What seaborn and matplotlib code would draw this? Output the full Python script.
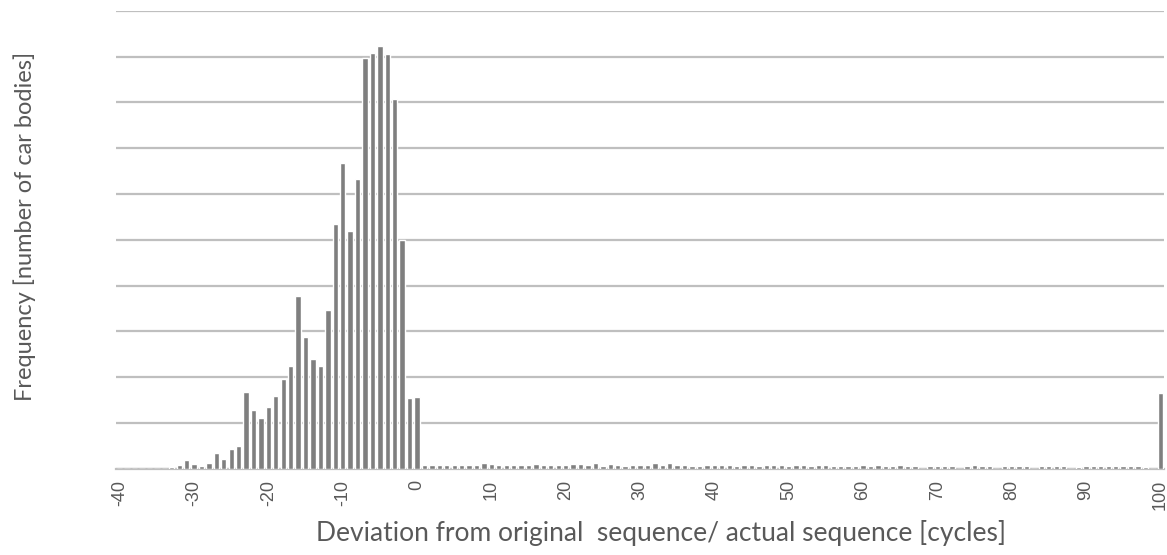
import matplotlib
matplotlib.use("Agg")
import matplotlib.pyplot as plt
import seaborn as sns
import numpy as np
import pandas as pd

# ---- data ----
deviation = list(range(-40, 101))
freq_neg = [0, 0, 0, 0, 0, 0, 0,                       # -40 .. -34
            0.4, 0.8, 1.9, 1.0, 0.6, 1.3, 3.4, 2.2, 4.3, 5.0,   # -33 .. -24
            16.7, 12.8, 11.1, 13.5, 15.9, 19.5, 22.4, 37.7, 28.8, 24.0,  # -23 .. -14
            22.5, 34.7, 53.4, 66.8, 52.0, 63.2, 89.7, 90.7, 92.2, 90.5,  # -13 .. -4
            80.8, 49.9, 15.5, 15.7]                   # -3 .. 0
freq_pos = [0.7, 0.7, 0.7, 0.8, 0.9, 0.7, 0.7, 0.9, 1.2, 1.1,   # 1..10
            0.9, 0.9, 0.8, 0.8, 0.9, 1.0, 0.8, 0.9, 0.8, 0.8,   # 11..20
            1.0, 1.1, 0.9, 1.2, 0.6, 1.1, 0.8, 0.5, 0.9, 0.8,   # 21..30
            0.7, 1.2, 0.9, 1.2, 0.8, 0.7, 0.6, 0.6, 0.7, 0.8,   # 31..40
            0.7, 0.7, 0.6, 0.7, 0.7, 0.6, 0.7, 0.7, 0.7, 0.6,   # 41..50
            0.7, 0.7, 0.6, 0.7, 0.9, 0.6, 0.6, 0.6, 0.6, 0.7,   # 51..60
            0.6, 0.8, 0.6, 0.6, 0.7, 0.6, 0.5, 0.0, 0.5, 0.5,   # 61..70
            0.5, 0.5, 0.0, 0.5, 0.7, 0.6, 0.5, 0.0, 0.5, 0.5,   # 71..80
            0.6, 0.5, 0.0, 0.5, 0.6, 0.5, 0.5, 0.0, 0.4, 0.5,   # 81..90
            0.5, 0.6, 0.5, 0.5, 0.5, 0.5, 0.5, 0.4, 0.0, 16.6]  # 91..100
frequency = freq_neg + freq_pos
tick_values = list(range(-40, 101, 10))
x_title = "Deviation from original  sequence/ actual sequence [cycles]"
y_title = "Frequency [number of car bodies]"

df = pd.DataFrame({"deviation": deviation, "frequency": frequency})

sns.set_style("white")
fig = plt.figure(figsize=(11.67, 5.55), dpi=100)
ax = fig.add_axes([116/1167, 1-468.7/555, (1164-116)/1167, (468.7-10.7)/555])

sns.barplot(data=df, x="deviation", y="frequency", order=deviation,
            color="#7f7f7f", saturation=1, width=0.72, ax=ax, zorder=3)

ax.set_xlim(-0.5, len(deviation) - 0.5)
ax.set_ylim(0, 100)
ax.set_yticks(np.arange(0, 101, 10))
ax.set_yticklabels([])
ax.tick_params(axis="y", length=0)
ax.yaxis.grid(True, color="#bfbfbf", linewidth=1.6, zorder=0)
ax.set_axisbelow(True)

pos = [deviation.index(v) for v in tick_values]
ax.set_xticks(pos)
ax.set_xticklabels([str(v) for v in tick_values], rotation=90,
                   fontfamily="Liberation Sans", fontsize=13, color="#595959")
ax.tick_params(axis="x", length=0, pad=8)

for s in ["top", "right", "left"]:
    ax.spines[s].set_visible(False)
ax.spines["bottom"].set_color("#bfbfbf")
ax.spines["bottom"].set_linewidth(1.6)
ax.set_xlabel("")
ax.set_ylabel("")

fig.text(661/1167, 1-533/555, x_title, ha="center", va="center",
         fontfamily="Lato", fontsize=19, color="#595959")
fig.text(25/1167, 1-226/555, y_title, ha="center", va="center", rotation=90,
         fontfamily="Lato", fontsize=17, color="#595959")

fig.savefig("out.png", dpi=100, facecolor="white")
